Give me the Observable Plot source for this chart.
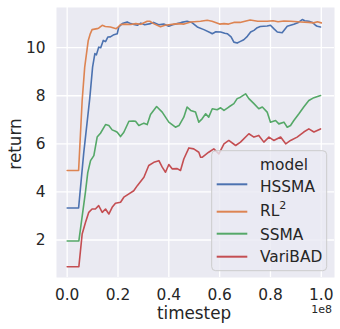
<!DOCTYPE html>
<html><head><meta charset="utf-8">
<script src="https://cdn.jsdelivr.net/npm/d3@7"></script>
<script src="https://cdn.jsdelivr.net/npm/@observablehq/plot@0.6"></script>
<style>body{margin:0;background:#fff;} svg{font-family:"DejaVu Sans";}</style>
</head><body><div id="chart"></div>
<script>
const models = ["HSSMA", "RL²", "SSMA", "VariBAD"];
const colors = ["#4C72B0", "#DD8452", "#55A868", "#C44E52"];
const xTicks = [0, 2e7, 4e7, 6e7, 8e7, 1e8];
const yTicks = [2, 4, 6, 8, 10];

const hssma = [[0,3.33],[4.5e6,3.33],[6.5e6,5.6],[8.9e6,7.9],[10.0e6,9.19],[10.9e6,9.75],[11.5e6,9.7],[12.4e6,10.02],[13.2e6,10.0],[14.2e6,10.3],[15.1e6,10.25],[16.0e6,10.44],[17.0e6,10.45],[18.4e6,10.54],[19.7e6,10.58],[20.3e6,10.86],[21.7e6,11.0],[23.6e6,11.07],[25.0e6,11.0],[27.6e6,10.93],[29e6,11.02],[30.5e6,10.95],[32.8e6,11.0],[34e6,11.05],[36e6,10.95],[38e6,10.98],[40e6,10.89],[41.5e6,10.95],[43.3e6,11.0],[45e6,11.05],[47.2e6,11.1],[49e6,11.05],[51.2e6,10.86],[53.8e6,10.75],[56.4e6,10.62],[57.1e6,10.58],[58.5e6,10.66],[60.4e6,10.65],[62e6,10.6],[63e6,10.58],[64.5e6,10.45],[65.6e6,10.23],[66.9e6,10.19],[68e6,10.25],[69.5e6,10.33],[70.9e6,10.47],[72.2e6,10.65],[73.5e6,10.72],[74.8e6,10.83],[76e6,10.88],[78.7e6,10.9],[80e6,10.93],[81.3e6,10.79],[82.7e6,10.65],[84.6e6,10.62],[86.6e6,10.89],[89.2e6,10.97],[91e6,11.05],[92.5e6,11.17],[93.5e6,11.12],[95.1e6,11.1],[96.5e6,11.05],[97.7e6,10.93],[98.4e6,10.89],[99.7e6,10.86]];
const rl2 = [[0,4.89],[4.5e6,4.89],[5.9e6,7.8],[6.9e6,9.19],[8.3e6,10.3],[9.0e6,10.55],[9.8e6,10.75],[11.8e6,10.79],[12.5e6,10.82],[13.8e6,10.93],[15e6,10.88],[17e6,10.86],[18e6,10.83],[19.3e6,10.79],[20e6,10.85],[21e6,10.96],[23e6,10.98],[25e6,10.96],[27e6,11.0],[29e6,10.97],[31.5e6,11.1],[32.5e6,11.1],[34e6,11.0],[36.7e6,10.87],[38.5e6,10.93],[40e6,10.95],[42e6,10.98],[44e6,11.0],[46e6,10.98],[48.6e6,11.07],[50e6,11.08],[52.5e6,11.1],[55.1e6,11.14],[57e6,11.1],[60e6,10.98],[61.7e6,11.0],[63.5e6,10.98],[65.6e6,11.05],[68e6,11.05],[70e6,11.1],[72e6,11.15],[75e6,11.1],[78.7e6,11.1],[81e6,11.12],[83e6,11.08],[85.3e6,11.11],[88e6,11.1],[92e6,11.07],[95e6,11.05],[97e6,11.03],[98.5e6,11.08],[100e6,11.03]];
const ssma = [[0,1.96],[4.6e6,1.96],[7.2e6,4.0],[8.1e6,4.8],[9.2e6,5.3],[10.5e6,5.51],[11.8e6,6.28],[13.1e6,6.44],[15.1e6,6.8],[16.4e6,6.76],[17.7e6,6.58],[19e6,6.52],[19.7e6,6.48],[21e6,6.3],[22.3e6,6.48],[24.3e6,6.94],[26e6,6.95],[26.9e6,6.94],[28.2e6,6.76],[30.2e6,6.86],[31.5e6,6.8],[32.8e6,7.22],[35.2e6,7.55],[37.4e6,7.32],[40e6,6.9],[42.6e6,6.69],[44e6,6.76],[45.9e6,7.11],[47.2e6,7.53],[48.6e6,7.39],[50.5e6,7.32],[51.8e6,6.9],[53.1e6,7.04],[54.5e6,7.25],[55.7e6,7.11],[57.1e6,7.46],[59e6,7.42],[60.4e6,7.5],[61.7e6,7.39],[63.6e6,7.53],[65.6e6,7.67],[66.9e6,7.88],[68.2e6,7.94],[70.2e6,8.08],[71.5e6,7.88],[73.5e6,7.67],[75.4e6,7.46],[76.8e6,7.53],[78.7e6,7.32],[80e6,6.9],[82e6,6.97],[83.3e6,6.83],[85.3e6,6.9],[86.6e6,6.69],[87.9e6,6.76],[89.2e6,6.97],[91.2e6,7.25],[93.1e6,7.53],[95.1e6,7.8],[97.1e6,7.92],[99.7e6,8.01]];
const varibad = [[0,0.89],[4.6e6,0.89],[5.9e6,2.25],[7.2e6,2.73],[8.5e6,3.15],[9.8e6,3.29],[11.1e6,3.29],[12.4e6,3.43],[13.8e6,3.15],[15.1e6,3.29],[16.4e6,3.08],[17.7e6,3.36],[19e6,3.53],[21e6,3.57],[22.3e6,3.78],[24.3e6,3.92],[26.2e6,4.05],[27.6e6,4.26],[30.2e6,4.61],[32.1e6,5.1],[34.1e6,5.23],[36.1e6,5.3],[37.4e6,5.03],[38.7e6,4.82],[40e6,5.14],[41.3e6,4.96],[43.3e6,4.97],[44.6e6,4.89],[45.9e6,5.37],[47.9e6,5.83],[49.8e6,5.79],[51.8e6,5.65],[52.5e6,5.44],[53.1e6,5.44],[55.7e6,5.65],[57.7e6,5.79],[59.7e6,5.58],[61.7e6,6.0],[63.6e6,6.14],[66.3e6,5.93],[68.2e6,6.07],[71.5e6,6.42],[73.5e6,6.28],[75.4e6,6.35],[77.4e6,6.07],[79.4e6,6.28],[81.3e6,6.14],[84e6,6.28],[86e6,6.0],[87.9e6,6.14],[90.5e6,6.28],[93.1e6,6.49],[95.1e6,6.62],[97.1e6,6.49],[99.7e6,6.62]];

const series = [hssma, rl2, ssma, varibad];
const rows = [];
series.forEach((s, i) => s.forEach(([t, r]) => rows.push({model: models[i], timestep: t, ret: r})));

const chart = Plot.plot({
  width: 340, height: 329,
  marginLeft: 56, marginRight: 6, marginTop: 7, marginBottom: 52,
  style: {fontFamily: "DejaVu Sans", fontSize: "15.4px", color: "#262626", background: "#fff", overflow: "visible"},
  x: {domain: [-0.042e8, 1.052e8]},
  y: {domain: [0.44, 11.67]},
  color: {domain: models, range: colors},
  marks: [
    Plot.frame({fill: "#EAEAF2", stroke: null}),
    Plot.gridX(xTicks, {stroke: "#fff", strokeOpacity: 1, strokeWidth: 1.3}),
    Plot.gridY(yTicks, {stroke: "#fff", strokeOpacity: 1, strokeWidth: 1.3}),
    Plot.axisX(xTicks, {tickSize: 0, tickPadding: 11.5, tickFormat: d => (d / 1e8).toFixed(1), label: null, fill: "#262626"}),
    Plot.axisY(yTicks, {tickSize: 0, tickPadding: 11, tickFormat: d => String(d), label: null, fill: "#262626"}),
    Plot.line(rows, {x: "timestep", y: "ret", z: "model", stroke: "model", strokeWidth: 1.6})
  ]
});
document.getElementById("chart").appendChild(chart);

const svg = d3.select(chart);
const txt = (x, y, s, size, anchor, rot) => {
  const t = svg.append("text").attr("x", x).attr("y", y).attr("font-size", size)
    .attr("fill", "#262626").attr("text-anchor", anchor || "start").text(s);
  if (rot) t.attr("transform", `rotate(${rot},${x},${y})`);
  return t;
};
txt(194, 318.5, "timestep", 16.8, "middle");
txt(20.7, 144, "return", 16.8, "middle", -90);
txt(332, 313, "1e8", 11, "end");

// legend
const lg = svg.append("g");
lg.append("rect").attr("x", 211.7).attr("y", 150.7).attr("width", 115).attr("height", 120)
  .attr("rx", 4).attr("fill", "#EAEAF2").attr("fill-opacity", 0.8).attr("stroke", "#CCCCCC").attr("stroke-width", 1);
txt(260, 170, "model", 15.4);
const lineY = [184.3, 211.7, 233.7, 256.7];
const textY = [191.7, 216, 240, 261.7];
models.forEach((m, i) => {
  lg.append("line").attr("x1", 216.7).attr("x2", 247.3).attr("y1", lineY[i]).attr("y2", lineY[i])
    .attr("stroke", colors[i]).attr("stroke-width", 2);
  if (m === "RL²") {
    const t = txt(260, textY[i], "RL", 15.4);
    t.append("tspan").attr("font-size", 11).attr("dy", -7).text("2");
  } else {
    txt(260, textY[i], m, 15.4);
  }
});
</script></body></html>
